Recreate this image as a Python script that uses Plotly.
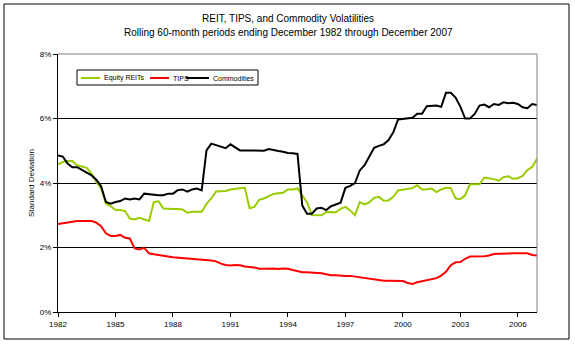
import plotly.graph_objects as go

# Month index (0 = Dec 1982), sampled quarterly
months = list(range(0, 301, 3))

tick_years = ["1982", "1985", "1988", "1991", "1994", "1997", "2000", "2003", "2006"]
tick_pos = [0, 36, 72, 108, 144, 180, 216, 252, 288]

y_ticks = [0, 2, 4, 6, 8]
y_tick_text = ["0%", "2%", "4%", "6%", "8%"]

equity_reits = [
    4.58, 4.65, 4.68, 4.68, 4.55, 4.52, 4.47, 4.29, 4.03, 3.83,
    3.36, 3.28, 3.16, 3.16, 3.13, 2.90, 2.87, 2.92, 2.88, 2.82,
    3.41, 3.43, 3.21, 3.19, 3.19, 3.19, 3.18, 3.08, 3.11, 3.11,
    3.11, 3.35, 3.52, 3.74, 3.74, 3.75, 3.80, 3.83, 3.84, 3.85,
    3.22, 3.26, 3.48, 3.52, 3.60, 3.66, 3.68, 3.70, 3.80, 3.80,
    3.83, 3.62, 3.40, 3.01, 3.00, 3.00, 3.10, 3.10, 3.09, 3.20,
    3.26, 3.15, 3.00, 3.41, 3.34, 3.40, 3.54, 3.57, 3.45, 3.46,
    3.57, 3.77, 3.79, 3.80, 3.84, 3.93, 3.80, 3.81, 3.83, 3.72,
    3.80, 3.85, 3.84, 3.52, 3.50, 3.62, 3.96, 3.96, 3.96, 4.17,
    4.15, 4.12, 4.07, 4.18, 4.21, 4.13, 4.15, 4.22, 4.40, 4.50,
    4.75,
]

tips = [
    2.73, 2.75, 2.79, 2.81, 2.82, 2.82, 2.83, 2.82, 2.77, 2.66,
    2.44, 2.36, 2.36, 2.39, 2.30, 2.28, 1.97, 1.94, 1.99, 1.82,
    1.79, 1.76, 1.75, 1.72, 1.70, 1.69, 1.67, 1.65, 1.64, 1.63,
    1.62, 1.62, 1.60, 1.57, 1.50, 1.46, 1.44, 1.46, 1.45, 1.41,
    1.40, 1.38, 1.34, 1.33, 1.34, 1.35, 1.33, 1.35, 1.34, 1.30,
    1.27, 1.23, 1.23, 1.22, 1.22, 1.20, 1.17, 1.14, 1.14, 1.12,
    1.12, 1.12, 1.10, 1.08, 1.06, 1.04, 1.00, 0.99, 0.97, 0.97,
    0.97, 0.97, 0.96, 0.90, 0.87, 0.92, 0.95, 1.00, 1.01, 1.05,
    1.13, 1.25, 1.45, 1.54, 1.55, 1.65, 1.72, 1.72, 1.74, 1.73,
    1.75, 1.80, 1.81, 1.82, 1.82, 1.82, 1.82, 1.82, 1.82, 1.77,
    1.75,
]

commodities = [
    4.85, 4.82, 4.60, 4.49, 4.49, 4.41, 4.31, 4.24, 4.10, 3.90,
    3.41, 3.36, 3.41, 3.44, 3.52, 3.49, 3.52, 3.49, 3.67, 3.65,
    3.62, 3.62, 3.62, 3.67, 3.67, 3.78, 3.80, 3.73, 3.80, 3.83,
    3.77, 5.01, 5.22, 5.17, 5.13, 5.08, 5.20, 5.11, 5.01, 5.01,
    5.01, 5.01, 4.99, 5.00, 5.05, 5.01, 4.99, 4.97, 4.93, 4.92,
    4.90, 3.30, 3.05, 3.05, 3.21, 3.23, 3.16, 3.28, 3.33, 3.39,
    3.85, 3.91, 4.00, 4.39, 4.55, 4.80, 5.09, 5.15, 5.20, 5.33,
    5.57, 5.97, 5.99, 6.01, 6.02, 6.15, 6.15, 6.38, 6.40, 6.40,
    6.36, 6.80, 6.80, 6.65, 6.37, 6.00, 6.00, 6.14, 6.40, 6.43,
    6.35, 6.45, 6.42, 6.50, 6.47, 6.49, 6.45, 6.35, 6.32, 6.45,
    6.42,
]

series_names = ["Equity REITs", "TIPS", "Commodities"]
series_colors = ["#99CC00", "#FF0000", "#000000"]
series_values = [equity_reits, tips, commodities]

FONT = "Liberation Sans, Arial, sans-serif"

fig = go.Figure()
for name, color, vals in zip(series_names, series_colors, series_values):
    fig.add_trace(go.Scatter(x=months, y=vals, mode="lines", name=name,
                             line=dict(color=color, width=2), showlegend=False))

W, H = 575, 344
L, R, T, B = 58, 38, 54, 32
pw, ph = W - L - R, H - T - B


def px(x):
    return (x - L) / pw


def py(y):
    return (H - B - y) / ph


shapes = []
# outer chart border
shapes.append(dict(type="rect", xref="paper", yref="paper",
                   x0=px(4), x1=px(569), y0=py(339), y1=py(4),
                   line=dict(color="black", width=1), layer="below"))
# plot-area top and right border (gray)
shapes.append(dict(type="line", xref="paper", yref="paper", x0=0, x1=1, y0=1, y1=1,
                   line=dict(color="#808080", width=1), layer="above"))
shapes.append(dict(type="line", xref="paper", yref="paper", x0=1, x1=1, y0=0, y1=1,
                   line=dict(color="#808080", width=1), layer="above"))
# legend box
lx0, lx1, ly0, ly1 = 77, 258, 70, 85
shapes.append(dict(type="rect", xref="paper", yref="paper",
                   x0=px(lx0), x1=px(lx1), y0=py(ly1), y1=py(ly0),
                   line=dict(color="black", width=1), fillcolor="white", layer="above"))

annotations = []
leg_items = [(81, 100, 102), (150, 169, 171), (186, 209, 211)]
ly_mid = (ly0 + ly1) / 2 + 0.5
for (a, b, t), name, color in zip(leg_items, series_names, series_colors):
    shapes.append(dict(type="line", xref="paper", yref="paper",
                       x0=px(a), x1=px(b), y0=py(ly_mid), y1=py(ly_mid),
                       line=dict(color=color, width=2), layer="above"))
    annotations.append(dict(text=name, xref="paper", yref="paper", x=px(t), y=py(ly_mid),
                            xanchor="left", yanchor="middle", showarrow=False,
                            font=dict(family=FONT, size=7, color="black")))

annotations.append(dict(text="REIT, TIPS, and Commodity Volatilities", xref="paper", yref="paper",
                        x=px(288), y=py(19), xanchor="center", yanchor="middle", showarrow=False,
                        font=dict(family=FONT, size=10, color="black")))
annotations.append(dict(text="Rolling 60-month periods ending December 1982 through December 2007",
                        xref="paper", yref="paper",
                        x=px(288), y=py(32), xanchor="center", yanchor="middle", showarrow=False,
                        font=dict(family=FONT, size=10, color="black")))
annotations.append(dict(text="Standard Deviation", xref="paper", yref="paper",
                        x=px(31), y=0.5, xanchor="center", yanchor="middle", textangle=-90,
                        showarrow=False, font=dict(family=FONT, size=8, color="black")))

fig.update_layout(
    width=W, height=H,
    margin=dict(l=L, r=R, t=T, b=B, pad=0),
    paper_bgcolor="white", plot_bgcolor="white",
    font=dict(family=FONT, size=8, color="black"),
    shapes=shapes, annotations=annotations,
    xaxis=dict(range=[0, 300], tickmode="array", tickvals=tick_pos, ticktext=tick_years,
               showgrid=False, zeroline=False, showline=True, linecolor="black", linewidth=1,
               ticks="outside", ticklen=4, tickcolor="black",
               tickfont=dict(family=FONT, size=8, color="black")),
    yaxis=dict(range=[0, 8], tickmode="array", tickvals=y_ticks, ticktext=y_tick_text,
               showgrid=True, gridcolor="black", gridwidth=1, zeroline=False,
               showline=True, linecolor="black", linewidth=1,
               ticks="outside", ticklen=4, tickcolor="black",
               tickfont=dict(family=FONT, size=8, color="black")),
)

fig.write_html("out.html")
